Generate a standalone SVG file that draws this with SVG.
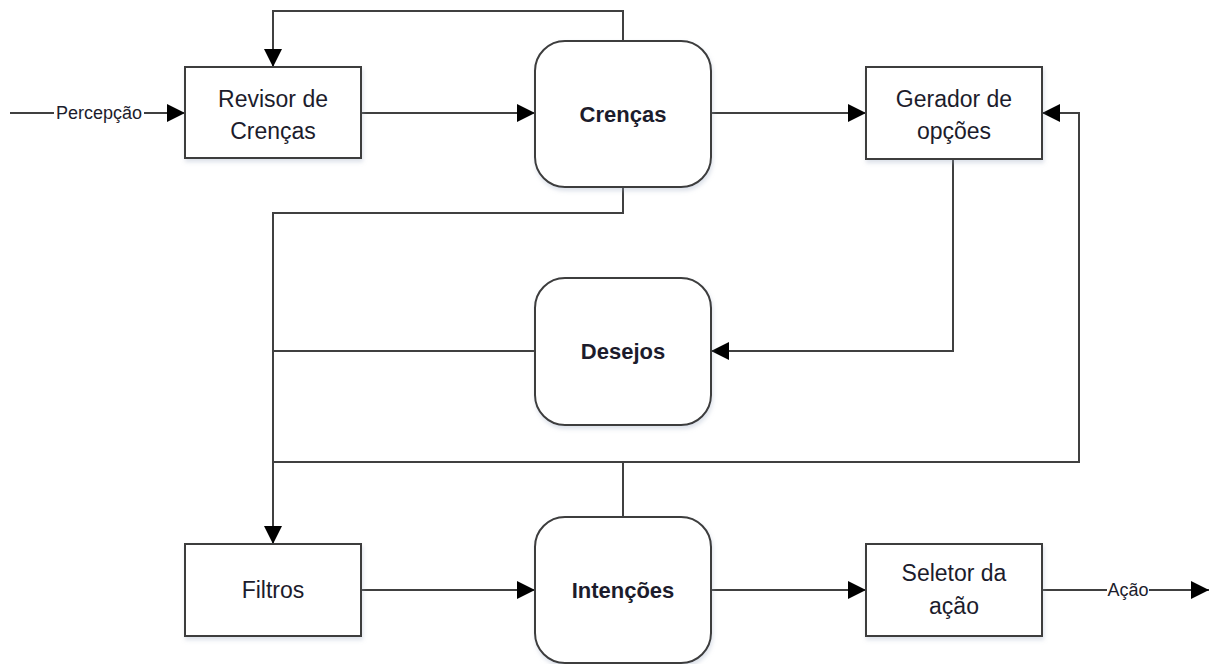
<svg xmlns="http://www.w3.org/2000/svg" width="1209" height="664" viewBox="0 0 1209 664">
  <style>
    .box { fill: #ffffff; stroke: #3c3c3c; stroke-width: 2; }
    .wire { fill: none; stroke: #404040; stroke-width: 2; }
    .lbl { font-family: "Liberation Sans", Arial, sans-serif; font-size: 23px; fill: #1c1c2c; text-anchor: middle; }
    .bold { font-weight: bold; font-size: 22px; }
    .small { font-family: "Liberation Sans", Arial, sans-serif; font-size: 18px; fill: #1c1c2c; text-anchor: middle; }
  </style>
  <defs>
    <marker id="arrow" markerUnits="userSpaceOnUse" markerWidth="18" markerHeight="18" refX="18" refY="9" orient="auto">
      <path d="M0,0 L18,9 L0,18 z" fill="#000000"/>
    </marker>
    <filter id="shadow" x="-10%" y="-10%" width="120%" height="125%">
      <feDropShadow dx="1" dy="3" stdDeviation="2" flood-color="#9aa8c0" flood-opacity="0.35"/>
    </filter>
  </defs>

  <!-- connectors -->
  <g id="connectors">
    <!-- input -->
    <path class="wire" d="M10,113 H185" marker-end="url(#arrow)"/>
    <!-- belief feedback to reviser -->
    <path class="wire" d="M623,41 V11 H273 V67" marker-end="url(#arrow)"/>
    <path class="wire" d="M361,113 H535" marker-end="url(#arrow)"/>
    <path class="wire" d="M711,113 H866" marker-end="url(#arrow)"/>
    <!-- beliefs down to filters -->
    <path class="wire" d="M623,187 V213 H273 V544" marker-end="url(#arrow)"/>
    <!-- options to desires -->
    <path class="wire" d="M953,159 V351 H711" marker-end="url(#arrow)"/>
    <path class="wire" d="M535,351 H273"/>
    <!-- intentions feedback -->
    <path class="wire" d="M623,517 V462 H273"/>
    <path class="wire" d="M623,462 H1079 V113 H1042" marker-end="url(#arrow)"/>
    <path class="wire" d="M361,590 H535" marker-end="url(#arrow)"/>
    <path class="wire" d="M711,590 H866" marker-end="url(#arrow)"/>
    <path class="wire" d="M1042,590 H1209" marker-end="url(#arrow)"/>
    <!-- edge labels -->
    <rect x="54" y="103" width="90" height="20" fill="#ffffff"/>
    <text class="small" x="99" y="119">Percepção</text>
    <rect x="1107" y="581" width="42" height="18" fill="#ffffff"/>
    <text class="small" x="1128" y="596">Ação</text>
  </g>

  <g id="revisor">
    <rect class="box" x="185" y="67" width="176" height="91" filter="url(#shadow)"/>
    <text class="lbl" x="273" y="107">Revisor de</text>
    <text class="lbl" x="273" y="139">Crenças</text>
  </g>

  <g id="crencas">
    <rect class="box" x="535" y="41" width="176" height="146" rx="30" ry="30" filter="url(#shadow)"/>
    <text class="lbl bold" x="623" y="122">Crenças</text>
  </g>

  <g id="gerador">
    <rect class="box" x="866" y="67" width="176" height="92" filter="url(#shadow)"/>
    <text class="lbl" x="954" y="107">Gerador de</text>
    <text class="lbl" x="954" y="139">opções</text>
  </g>

  <g id="desejos">
    <rect class="box" x="535" y="278" width="176" height="147" rx="30" ry="30" filter="url(#shadow)"/>
    <text class="lbl bold" x="623" y="359">Desejos</text>
  </g>

  <g id="filtros">
    <rect class="box" x="185" y="544" width="176" height="92" filter="url(#shadow)"/>
    <text class="lbl" x="273" y="598">Filtros</text>
  </g>

  <g id="intencoes">
    <rect class="box" x="535" y="517" width="176" height="146" rx="30" ry="30" filter="url(#shadow)"/>
    <text class="lbl bold" x="623" y="598">Intenções</text>
  </g>

  <g id="seletor">
    <rect class="box" x="866" y="544" width="176" height="92" filter="url(#shadow)"/>
    <text class="lbl" x="954" y="581">Seletor da</text>
    <text class="lbl" x="954" y="614">ação</text>
  </g>
</svg>
